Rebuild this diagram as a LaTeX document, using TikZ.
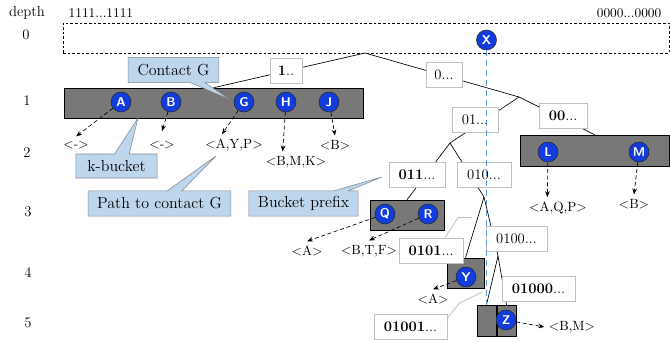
\documentclass[tikz,border=0pt]{standalone}
\usetikzlibrary{arrows.meta, shapes.callouts, backgrounds}
\definecolor{contactblue}{RGB}{18,60,222}
\definecolor{bucketgray}{RGB}{120,120,120}
\definecolor{boxgray}{RGB}{192,192,192}
\definecolor{noteblue}{RGB}{190,214,236}
\definecolor{notegray}{RGB}{128,136,146}
\definecolor{pathblue}{RGB}{91,155,213}

\begin{document}
\begin{tikzpicture}[x=0.75pt,y=-0.75pt,>={Stealth[length=4.5pt,width=3.5pt]},
      every node/.style={font=\fontsize{11}{13}\selectfont},
      contact/.style={circle,draw=black!85,fill=contactblue,text=white,inner sep=0pt,
        minimum size=15pt,font=\sffamily\bfseries\fontsize{9.5}{10}\selectfont},
      bucket/.style={draw=black,fill=bucketgray,inner sep=0pt},
      prefixbox/.style={draw=boxgray,fill=white,inner sep=2pt,minimum height=19pt},
      notebox/.style={rectangle callout,draw=notegray,fill=noteblue,inner sep=2pt,
        minimum height=19pt,callout pointer width=11pt,font=\fontsize{12}{14}\selectfont},
      rtable/.style={font=\fontsize{10}{12}\selectfont},
      lookup/.style={->,dash pattern=on 3pt off 2pt,line width=0.5pt},
      branch/.style={line width=0.5pt},
      leader/.style={draw=boxgray,line width=0.6pt}]
  \useasboundingbox (0,0) rectangle (670,342);

  % depth column and id range
  \node (dh) at (27,13) {depth};
  \node (d0) at (26,35) {0};
  \node (d1) at (27,101) {1};
  \node (d2) at (27,153) {2};
  \node (d3) at (28,212) {3};
  \node (d4) at (28,273) {4};
  \node (d5) at (28,323) {5};
  \node[rtable,anchor=west] (lo) at (64,13) {1111...1111};
  \node[rtable,anchor=east] (hi) at (666,13) {0000...0000};
  \node[draw,dash pattern=on 2pt off 1.5pt,minimum width=454.5pt,minimum height=22.5pt] (root) at (366,38) {};

  % k-buckets
  \node[bucket,minimum width=224.25pt,minimum height=22.5pt] (k1) at (213.5,103) {};
  \node[bucket,minimum width=111.75pt,minimum height=23.25pt] (k00) at (594.5,150.5) {};
  \node[bucket,minimum width=55.5pt,minimum height=22.5pt] (k011) at (407,215) {};
  \node[bucket,minimum width=27.75pt,minimum height=22.5pt] (k0101) at (465.5,273) {};
  \node[bucket,minimum width=14.25pt,minimum height=23.25pt] (k01001) at (486.5,320.5) {};
  \node[bucket,minimum width=14.25pt,minimum height=23.25pt] (k01000) at (506.5,320.5) {};

  % prefixes
  \node[prefixbox,minimum width=24pt] (p1) at (286,70.5) {\textbf{1}..};
  \node[prefixbox,minimum width=27pt] (p0) at (444,75) {0...};
  \node[prefixbox,minimum width=34.5pt] (p01) at (475,120) {01...};
  \node[prefixbox,minimum width=36pt] (p00) at (563,116) {\textbf{00}...};
  \node[prefixbox,minimum width=42pt] (p011) at (417,174.5) {\textbf{011}...};
  \node[prefixbox,minimum width=40.5pt] (p010) at (484,174.5) {010...};
  \node[prefixbox,minimum width=48pt] (p0101) at (431,250.5) {\textbf{0101}...};
  \node[prefixbox,minimum width=46pt] (p0100) at (516.5,239) {0100...};
  \node[prefixbox,minimum width=55pt] (p01000) at (538.5,289) {\textbf{01000}...};
  \node[prefixbox,minimum width=55pt] (p01001) at (410.5,327) {\textbf{01001}...};

  % tree
  \coordinate (r) at (365,53);
  \coordinate (j0) at (519,97);
  \coordinate (j01) at (450,143);
  \coordinate (j010) at (484,197);
  \coordinate (j0100) at (498,256);
  \begin{scope}[on background layer]
    \draw[branch] (k1.north) -- (r) -- (j0) -- (k00.north);
    \draw[branch] (j0) -- (j01) -- (k011.north);
    \draw[branch] (j01) -- (j010) -- (k0101.north);
    \draw[branch] (j010) -- (j0100) -- (k01001.north);
    \draw[branch] (j0100) -- (k01000.north);
  \end{scope}
  \draw[leader] ([xshift=10.5pt]p0101.north) -- ++(13,-20) -- ++(14,0);
  \draw[leader] ([yshift=-3pt]p01001.north east) -- ++(12,-15) -- ++(23,-11);

  % contacts
  \node[contact] (X) at (486.5,40) {X};
  \node[contact] (A) at (121,102) {A};
  \node[contact] (B) at (171,102) {B};
  \node[contact] (G) at (244,102) {G};
  \node[contact] (H) at (286,102) {H};
  \node[contact] (J) at (329,102) {J};
  \node[contact] (L) at (548,152) {L};
  \node[contact] (M) at (639,152) {M};
  \node[contact] (Q) at (385,214) {Q};
  \node[contact] (R) at (428,214) {R};
  \node[contact] (Y) at (466,277) {Y};
  \node[contact] (Z) at (506,320) {Z};

  % routing tables
  \node[rtable] (tA) at (76,145) {<->};
  \node[rtable] (tB) at (162,145) {<->};
  \node[rtable] (tG) at (234,145) {<A,Y,P>};
  \node[rtable] (tH) at (296,162) {<B,M,K>};
  \node[rtable] (tJ) at (335,145) {<B>};
  \node[rtable] (tL) at (558,208) {<A,Q,P>};
  \node[rtable] (tM) at (634,204) {<B>};
  \node[rtable] (tQ) at (307,251) {<A>};
  \node[rtable] (tR) at (369,251) {<B,T,F>};
  \node[rtable] (tY) at (433,299) {<A>};
  \node[rtable] (tZ) at (572,327) {<B,M>};
  \path[lookup]
    (A) edge (tA.north)
    (B) edge ([yshift=4pt]tB.north)
    (G) edge ([xshift=-9pt]tG.north)
    (H) edge ([xshift=-10pt]tH.north)
    (J) edge (tJ.north)
    (L) edge ([xshift=-8pt]tL.north)
    (M) edge (tM.north)
    (Q) edge (tQ.north)
    (R) edge (tR.north)
    (Y) edge (tY.north)
    (Z) edge (tZ.west);

  % lookup path of X
  \draw[pathblue,line width=1.1pt,dash pattern=on 4.5pt off 3pt] (X.south) -- (X.south |- k01001.north);

  % notes
  \coordinate (ptrG) at (229,99);
  \coordinate (ptrK) at (138,118);
  \coordinate (ptrP) at (216,156);
  \coordinate (ptrB) at (382,177);
  \node[notebox,minimum width=68pt,callout absolute pointer={(ptrG)}] (nG) at (173.5,70) {Contact G};
  \node[notebox,minimum width=61pt,minimum height=18pt,callout absolute pointer={(ptrK)}] (nK) at (116.5,166) {k-bucket};
  \node[notebox,minimum width=107pt,callout absolute pointer={(ptrP)}] (nP) at (159.5,203.5) {Path to contact G};
  \node[notebox,minimum width=82pt,callout absolute pointer={(ptrB)}] (nB) at (303.5,203.5) {Bucket prefix};
\end{tikzpicture}
\end{document}
